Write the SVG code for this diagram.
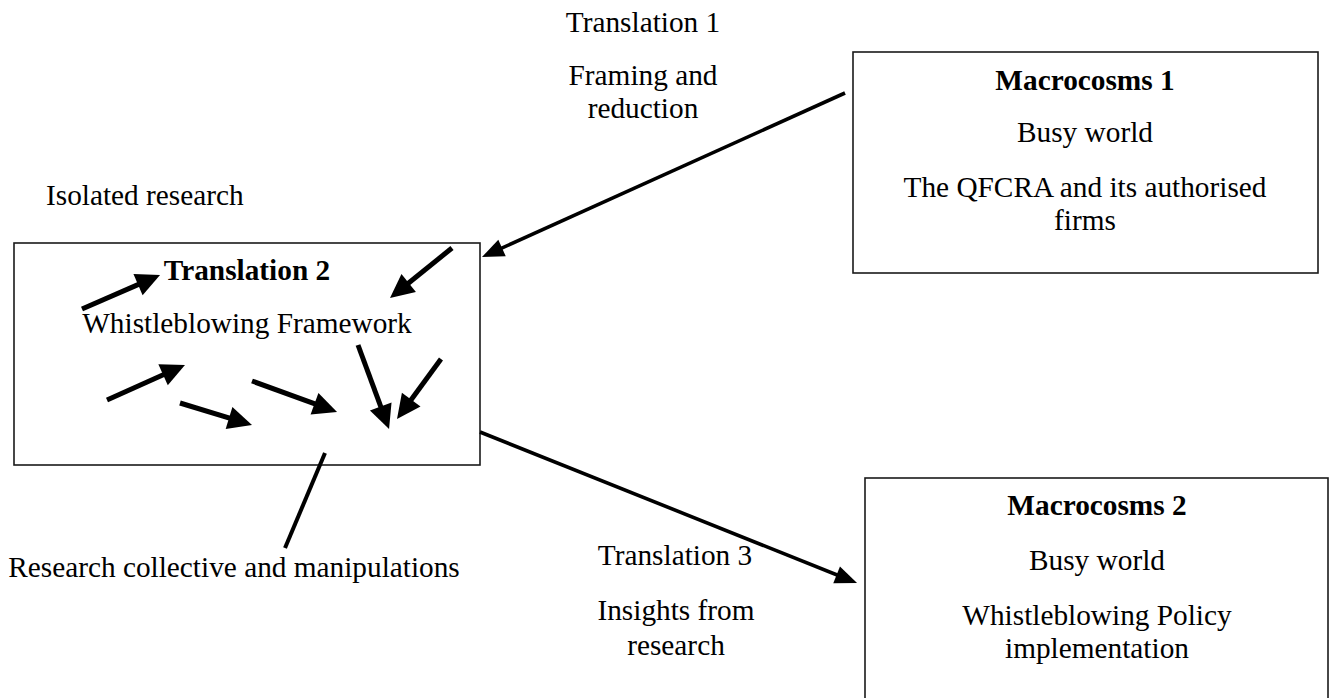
<svg xmlns="http://www.w3.org/2000/svg" width="1330" height="698" viewBox="0 0 1330 698">
  <style>
    .box { fill: #ffffff; stroke: #1a1a1a; stroke-width: 1.6; }
    .t { font-family: "Liberation Serif", "Times New Roman", serif; font-size: 29.3px; fill: #000; text-anchor: middle; }
    .l { text-anchor: start; }
    .b { font-weight: bold; }
    .big { stroke: #000; stroke-width: 3.6; fill: none; }
    .small { stroke: #000; stroke-width: 5; fill: none; }
    .plain { stroke: #000; stroke-width: 4; fill: none; }
  </style>
  <defs>
    <marker id="headBig" markerUnits="userSpaceOnUse" markerWidth="26" markerHeight="20" refX="10" refY="9" orient="auto" overflow="visible">
      <path d="M0,0 L22,9 L0,18 z" fill="#000"/>
    </marker>
    <marker id="headSmall" markerUnits="userSpaceOnUse" markerWidth="26" markerHeight="24" refX="10" refY="11.5" orient="auto" overflow="visible">
      <path d="M0,0 L24,11.5 L0,23 z" fill="#000"/>
    </marker>
  </defs>

  <rect width="1330" height="698" fill="#ffffff"/>

  <!-- free labels -->
  <g id="label-translation1">
    <text class="t" x="643" y="32">Translation 1</text>
    <text class="t" x="643" y="85">Framing and</text>
    <text class="t" x="643" y="118">reduction</text>
  </g>
  <g id="label-isolated">
    <text class="t l" x="46" y="205">Isolated research</text>
  </g>
  <g id="label-collective">
    <text class="t" x="234" y="577">Research collective and manipulations</text>
  </g>
  <g id="label-translation3">
    <text class="t" x="675" y="565">Translation 3</text>
    <text class="t" x="676" y="620">Insights from</text>
    <text class="t" x="676" y="655">research</text>
  </g>

  <!-- nodes -->
  <g id="node-translation2">
    <rect class="box" x="14" y="243" width="466" height="222"/>
    <text class="t b" x="247" y="280">Translation 2</text>
    <text class="t" x="247" y="333">Whistleblowing Framework</text>
  </g>
  <g id="node-macrocosms1">
    <rect class="box" x="853" y="52" width="465" height="221"/>
    <text class="t b" x="1085" y="90">Macrocosms 1</text>
    <text class="t" x="1085" y="142">Busy world</text>
    <text class="t" x="1085" y="197">The QFCRA and its authorised</text>
    <text class="t" x="1085" y="230">firms</text>
  </g>
  <g id="node-macrocosms2">
    <rect class="box" x="865" y="478" width="463" height="240"/>
    <text class="t b" x="1097" y="515">Macrocosms 2</text>
    <text class="t" x="1097" y="570">Busy world</text>
    <text class="t" x="1097" y="625">Whistleblowing Policy</text>
    <text class="t" x="1097" y="658">implementation</text>
  </g>

  <!-- connectors -->
  <g id="connectors">
    <path class="big" d="M845,93 L492.9,252.1" marker-end="url(#headBig)"/>
    <path class="big" d="M480,432 L845.9,578.5" marker-end="url(#headBig)"/>
    <path class="plain" d="M325,453 L285,548"/>

    <!-- short arrows inside the framework box -->
    <path class="small" d="M82,309 L147.2,280.6" marker-end="url(#headSmall)"/>
    <path class="small" d="M452,248 L400.9,289.2" marker-end="url(#headSmall)"/>
    <path class="small" d="M107,400 L172.2,370.7" marker-end="url(#headSmall)"/>
    <path class="small" d="M180,403 L238.6,420.9" marker-end="url(#headSmall)"/>
    <path class="small" d="M252,381 L323.9,407.2" marker-end="url(#headSmall)"/>
    <path class="small" d="M358,345 L384.2,415.9" marker-end="url(#headSmall)"/>
    <path class="small" d="M441,359 L405.3,407.7" marker-end="url(#headSmall)"/>
  </g>
</svg>
